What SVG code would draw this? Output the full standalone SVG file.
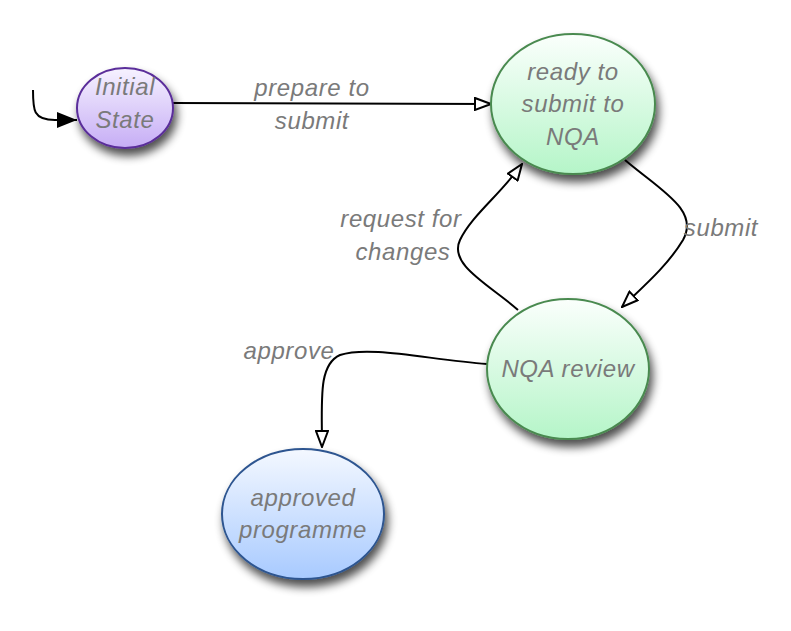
<svg xmlns="http://www.w3.org/2000/svg" width="791" height="631" viewBox="0 0 791 631">
<style>
.t{font-family:"Liberation Sans",Arial,sans-serif;font-style:italic;font-weight:normal;font-size:24px;letter-spacing:0.6px;fill:#7a7a7a;text-anchor:middle}
.c{fill:none;stroke:#000;stroke-width:2}
</style>
<defs>
<linearGradient id="gp" x1="0" y1="0" x2="0" y2="1"><stop offset="0" stop-color="#f6f2ff"/><stop offset="1" stop-color="#c6adf5"/></linearGradient>
<linearGradient id="gg" x1="0" y1="0" x2="0" y2="1"><stop offset="0" stop-color="#fbfffc"/><stop offset="1" stop-color="#b5f5c8"/></linearGradient>
<linearGradient id="gb" x1="0" y1="0" x2="0" y2="1"><stop offset="0" stop-color="#f4f8ff"/><stop offset="1" stop-color="#a8caff"/></linearGradient>
<filter id="sh" x="-30%" y="-30%" width="160%" height="170%"><feGaussianBlur in="SourceAlpha" stdDeviation="5"/><feOffset dx="3" dy="7" result="b"/><feComponentTransfer><feFuncA type="linear" slope="0.7"/></feComponentTransfer><feMerge><feMergeNode/><feMergeNode in="SourceGraphic"/></feMerge></filter>
<marker id="open" viewBox="0 0 18 14" refX="17" refY="7" markerWidth="18" markerHeight="14" markerUnits="userSpaceOnUse" orient="auto"><path d="M1,1 L17,7 L1,13 Z" fill="#fff" stroke="#000" stroke-width="2"/></marker>
<marker id="fill" viewBox="0 0 20 16" refX="20" refY="8" markerWidth="20" markerHeight="16" markerUnits="userSpaceOnUse" orient="auto"><path d="M0,0 L20,8 L0,16 Z" fill="#000"/></marker>
</defs>
<g id="connectors">
<path class="c" d="M33,90 C33,110 33,120 55,120 L77,120" marker-end="url(#fill)"/>
<path class="c" d="M173,103 L491,104" marker-end="url(#open)"/>
<path class="c" d="M625,160 C660,190 700,210 683,240 C668,265 645,285 622,307" marker-end="url(#open)"/>
<path class="c" d="M518,310 C490,285 448,265 460,240 C472,215 500,195 522,164" marker-end="url(#open)"/>
<path class="c" d="M487,364 C430,360 370,345 340,355 C318,365 322,400 322,447" marker-end="url(#open)"/>
</g>
<g id="lbl-prepare"><text class="t" x="312" y="96">prepare to</text><text class="t" x="312" y="129">submit</text></g>
<g id="lbl-submit"><text class="t" x="721" y="236">submit</text></g>
<g id="lbl-request"><text class="t" x="401" y="227">request for</text><text class="t" x="403" y="260">changes</text></g>
<g id="lbl-approve"><text class="t" x="289" y="359">approve</text></g>
<g id="initial"><ellipse cx="125" cy="108" rx="48" ry="40" fill="url(#gp)" stroke="#5a2d9a" stroke-width="2" filter="url(#sh)"/><text class="t" x="125" y="95">Initial</text><text class="t" x="125" y="128">State</text></g>
<g id="ready"><ellipse cx="573" cy="104" rx="82" ry="70" fill="url(#gg)" stroke="#4a8a50" stroke-width="2" filter="url(#sh)"/><text class="t" x="573" y="80">ready to</text><text class="t" x="573" y="112">submit to</text><text class="t" x="573" y="145">NQA</text></g>
<g id="review"><ellipse cx="568" cy="369" rx="81" ry="70" fill="url(#gg)" stroke="#4a8a50" stroke-width="2" filter="url(#sh)"/><text class="t" x="568" y="377">NQA review</text></g>
<g id="approved"><ellipse cx="303" cy="514" rx="81" ry="65" fill="url(#gb)" stroke="#2d5590" stroke-width="2" filter="url(#sh)"/><text class="t" x="303" y="506">approved</text><text class="t" x="303" y="538">programme</text></g>
</svg>
